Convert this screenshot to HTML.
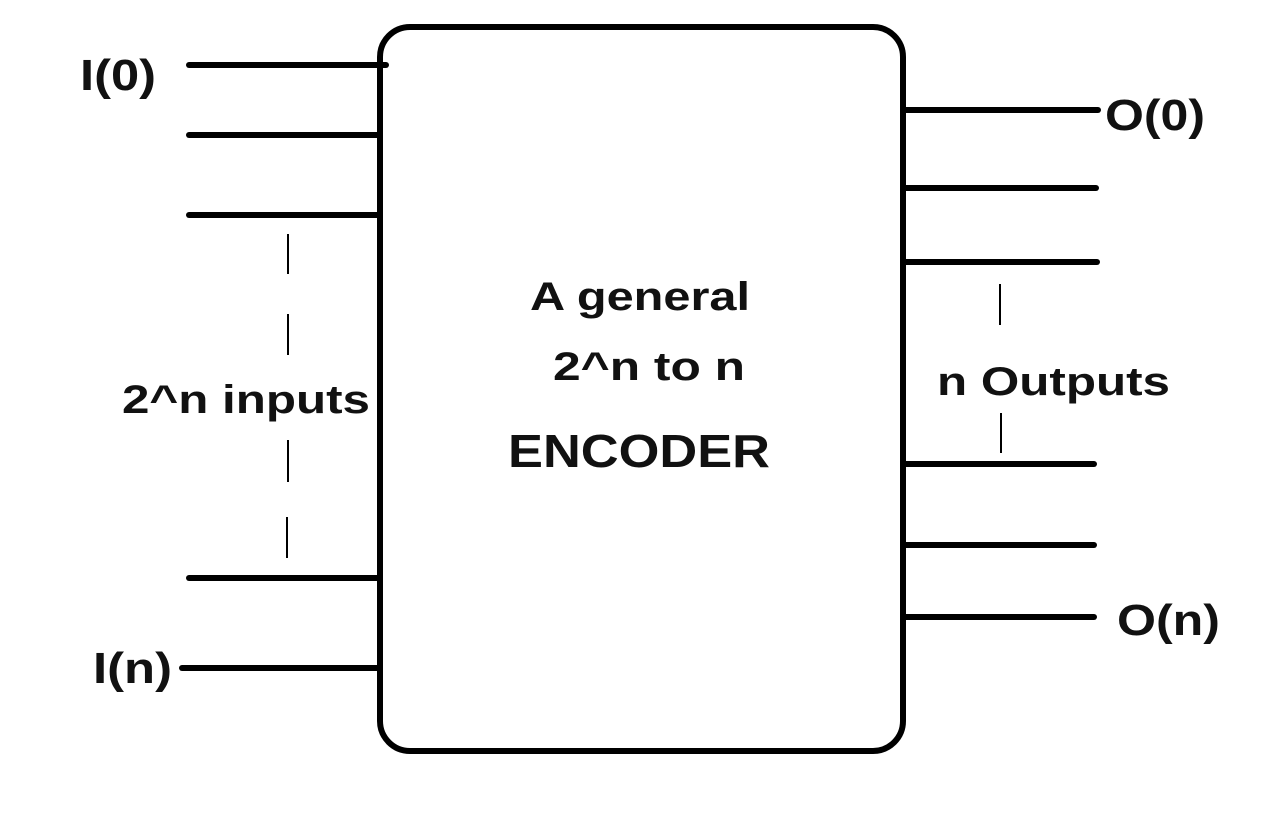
<!DOCTYPE html>
<html><head><meta charset="utf-8"><style>html,body{margin:0;padding:0;background:#fff;}svg{display:block}</style></head>
<body>
<svg width="1280" height="816" viewBox="0 0 1280 816" xmlns="http://www.w3.org/2000/svg">
<rect width="1280" height="816" fill="#fff"/>
<rect x="380" y="27" width="523" height="724" rx="30" ry="30" fill="none" stroke="#000" stroke-width="6"/>
<g stroke="#000" stroke-width="6" stroke-linecap="round">
<line x1="189" y1="65" x2="386" y2="65"/>
<line x1="189" y1="135" x2="380" y2="135"/>
<line x1="189" y1="215" x2="380" y2="215"/>
<line x1="189" y1="578" x2="380" y2="578"/>
<line x1="182" y1="668" x2="380" y2="668"/>
<line x1="903" y1="110" x2="1098" y2="110"/>
<line x1="903" y1="188" x2="1096" y2="188"/>
<line x1="903" y1="262" x2="1097" y2="262"/>
<line x1="903" y1="464" x2="1094" y2="464"/>
<line x1="903" y1="545" x2="1094" y2="545"/>
<line x1="903" y1="617" x2="1094" y2="617"/>
</g>
<g stroke="#000" stroke-width="2">
<line x1="288" y1="234" x2="288" y2="274"/>
<line x1="288" y1="314" x2="288" y2="355"/>
<line x1="288" y1="440" x2="288" y2="482"/>
<line x1="287" y1="517" x2="287" y2="558"/>
<line x1="1000" y1="284" x2="1000" y2="325"/>
<line x1="1001" y1="413" x2="1001" y2="453"/>
</g>
<g font-family="Liberation Sans, sans-serif" font-weight="bold" fill="#111">
<text x="80" y="90" font-size="44" textLength="76" lengthAdjust="spacingAndGlyphs">I(0)</text>
<text x="93" y="683" font-size="44" textLength="79" lengthAdjust="spacingAndGlyphs">I(n)</text>
<text x="1105" y="130" font-size="44" textLength="100" lengthAdjust="spacingAndGlyphs">O(0)</text>
<text x="1117" y="635" font-size="44" textLength="103" lengthAdjust="spacingAndGlyphs">O(n)</text>
<text x="122" y="413" font-size="40" textLength="248" lengthAdjust="spacingAndGlyphs">2^n inputs</text>
<text x="937" y="395" font-size="40" textLength="233" lengthAdjust="spacingAndGlyphs">n Outputs</text>
<text x="530" y="310" font-size="40" textLength="220" lengthAdjust="spacingAndGlyphs">A general</text>
<text x="553" y="380" font-size="40" textLength="192" lengthAdjust="spacingAndGlyphs">2^n to n</text>
<text x="508" y="467" font-size="46" textLength="262" lengthAdjust="spacingAndGlyphs">ENCODER</text>
</g>
</svg>
</body></html>
